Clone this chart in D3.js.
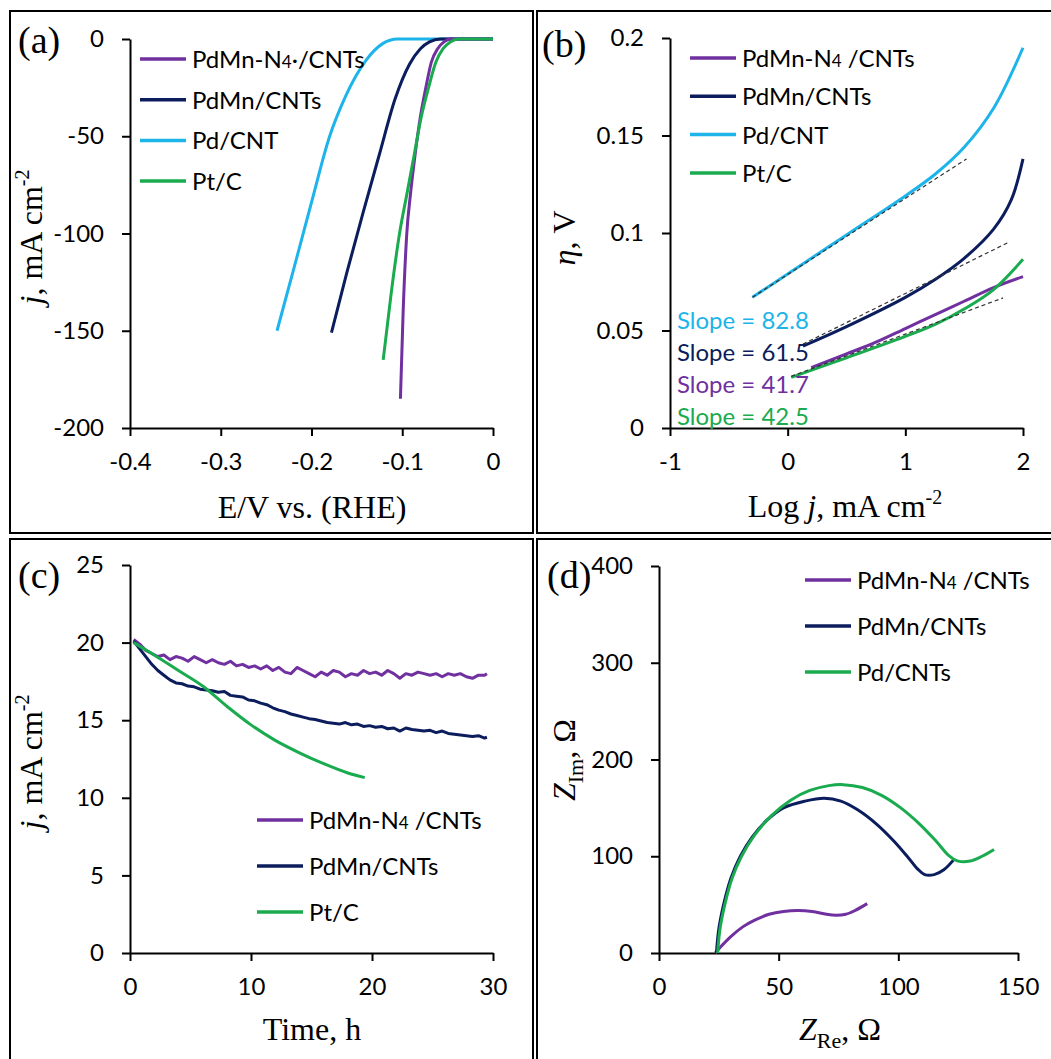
<!DOCTYPE html>
<html>
<head>
<meta charset="utf-8">
<script src="https://cdn.jsdelivr.net/npm/d3@7"></script>
<style>
  body { margin: 0; background: #fff; }
  svg { display: block; }
  .axis path, .axis line { stroke: #000; stroke-width: 2; }
  .axis text { font-family: Lato, sans-serif; font-size: 24px; fill: #000; }
  .leg text, .slope { font-family: Lato, sans-serif; font-size: 24px; }
  .title { font-family: "Liberation Serif", serif; font-size: 32px; fill: #000; }
  .plabel { font-family: "Liberation Serif", serif; font-size: 38px; fill: #000; }
</style>
</head>
<body>
<svg width="1051" height="1059"></svg>
<script>
// series colours
var purple = "#7030a0", navy = "#0b1d5c", cyan = "#1db4ea", green = "#1aab4f";

// (a) LSV curves: [E (V vs RHE), j (mA cm-2)]
var lsvPdMnN4 = [[-0.102,-185],[-0.099,-140],[-0.095,-100],[-0.091,-80],[-0.086,-60],[-0.080,-40],[-0.074,-25],[-0.068,-12],[-0.061,-5],[-0.054,-1.5],[-0.047,0],[0,0]];
var lsvPdMn = [[-0.178,-151],[-0.161,-120],[-0.143,-89],[-0.125,-59],[-0.108,-31],[-0.092,-13],[-0.080,-5],[-0.070,-1.5],[-0.058,0],[0,0]];
var lsvPd = [[-0.238,-150],[-0.22,-119],[-0.2,-84],[-0.18,-50],[-0.163,-30],[-0.14,-11],[-0.122,-2.5],[-0.105,0],[0,0]];
var lsvPt = [[-0.121,-165],[-0.112,-130],[-0.103,-100],[-0.095,-80],[-0.087,-60],[-0.079,-40],[-0.071,-25],[-0.063,-12],[-0.055,-5],[-0.047,-1.5],[-0.038,0],[0,0]];
var namesA = ["PdMn-N4·/CNTs", "PdMn/CNTs", "Pd/CNT", "Pt/C"];
var ticksAx = [-0.4,-0.3,-0.2,-0.1,0], ticksAy = [0,-50,-100,-150,-200];

// (b) Tafel plots: [log j, overpotential (V)]
var tafelPdMnN4 = [[0.2,0.031],[0.5,0.038],[0.75,0.044],[1,0.051],[1.25,0.058],[1.5,0.065],[1.75,0.072],[2,0.0776]];
var tafelPdMn = [[0.13,0.042],[0.5,0.052],[1,0.067],[1.25,0.076],[1.5,0.087],[1.75,0.102],[1.9,0.117],[2,0.138]];
var tafelPd = [[-0.3,0.067],[0,0.079],[0.5,0.099],[1,0.119],[1.25,0.130],[1.5,0.144],[1.75,0.164],[2,0.195]];
var tafelPt = [[0.03,0.026],[0.5,0.036],[1,0.047],[1.25,0.053],[1.5,0.061],[1.75,0.071],[2,0.0865]];
var fitPd = [[-0.3,0.067],[1.52,0.138]];
var fitPdMn = [[0.13,0.043],[1.87,0.095]];
var fitPt = [[0.03,0.0265],[1.83,0.0667]];
var slopes = ["Slope = 82.8", "Slope = 61.5", "Slope = 41.7", "Slope = 42.5"];
var namesB = ["PdMn-N4 /CNTs", "PdMn/CNTs", "Pd/CNT", "Pt/C"];
var ticksBx = [-1,0,1,2], ticksBy = [0,0.05,0.1,0.15,0.2];

// (c) chronoamperometry: [time (h), j (mA cm-2)]
var caPdMnN4 = [[0.3,20.2],[0.8,19.9],[1.3,19.5],[1.8,19.3],[2.3,19.1],[2.8,19.2],[3.3,18.9],[3.8,19.1],[4.3,19.0],[4.8,18.8],[5.3,19.1],[5.8,18.9],[6.3,18.7],[6.8,18.9],[7.3,18.7],[7.8,18.6],[8.3,18.8],[8.8,18.5],[9.3,18.6],[9.8,18.4],[10.3,18.5],[10.8,18.3],[11.3,18.5],[11.8,18.2],[12.3,18.4],[12.8,18.1],[13.3,18.0],[13.8,18.4],[14.3,18.2],[14.8,18.0],[15.3,17.8],[15.8,18.1],[16.3,17.9],[16.8,18.2],[17.3,18.1],[17.8,17.8],[18.3,18.0],[18.8,17.9],[19.3,18.2],[19.8,18.0],[20.3,18.1],[20.8,17.9],[21.3,18.2],[21.8,18.0],[22.3,17.7],[22.8,18.0],[23.3,17.9],[23.8,18.1],[24.3,18.0],[24.8,17.9],[25.3,18.0],[25.8,17.8],[26.3,18.0],[26.8,17.9],[27.3,18.0],[27.8,17.8],[28.3,17.7],[28.8,17.9],[29.3,17.9],[29.5,18.0]];
var caPdMn = [[0.3,20.1],[0.8,19.6],[1.3,19.1],[1.8,18.6],[2.3,18.2],[2.8,17.9],[3.3,17.6],[3.8,17.4],[4.3,17.35],[4.8,17.2],[5.3,17.15],[5.8,17.0],[6.3,16.95],[6.8,16.9],[7.3,16.8],[7.8,16.85],[8.3,16.6],[8.8,16.55],[9.3,16.5],[9.8,16.3],[10.3,16.25],[10.8,16.1],[11.3,16.0],[11.8,15.8],[12.3,15.65],[12.8,15.55],[13.3,15.4],[13.8,15.3],[14.3,15.2],[14.8,15.1],[15.3,15.05],[15.8,14.95],[16.3,14.85],[16.8,14.8],[17.3,14.75],[17.8,14.85],[18.3,14.7],[18.8,14.75],[19.3,14.6],[19.8,14.65],[20.3,14.55],[20.8,14.6],[21.3,14.45],[21.8,14.5],[22.3,14.3],[22.8,14.5],[23.3,14.4],[23.8,14.35],[24.3,14.3],[24.8,14.35],[25.3,14.2],[25.8,14.3],[26.3,14.15],[26.8,14.1],[27.3,14.05],[27.8,14.0],[28.3,13.95],[28.8,14.0],[29.3,13.85],[29.5,13.9]];
var caPt = [[0.3,20.0],[2,19.2],[4,18.2],[6,17.2],[8,15.9],[10,14.7],[12,13.7],[14,12.9],[16,12.2],[18,11.6],[19.4,11.3]];
var namesC = ["PdMn-N4 /CNTs", "PdMn/CNTs", "Pt/C"];
var ticksCx = [0,10,20,30], ticksCy = [0,5,10,15,20,25];

// (d) Nyquist plots: [Z_Re, Z_Im] (ohm)
var eisPdMnN4 = [[23.5,0],[26,7],[30,17],[35,27],[40,34],[46,40],[52,43],[58,44],[64,43],[70,40],[74,39],[78,40],[82,44],[87,51]];
var eisPdMn = [[24,0],[25,25],[27,50],[30,77],[34,100],[39,120],[45,137],[52,150],[61,157],[69,160],[76,157],[83,148],[91,133],[98,116],[104,99],[108,87],[111,81],[115,81],[119,86],[123,96]];
var eisPd = [[24.5,0],[25.5,25],[27.5,50],[30.5,77],[34.5,100],[40,122],[47,142],[55,158],[63,168],[71,173],[77,174],[85,171],[93,163],[101,150],[109,133],[116,115],[121,101],[125,95],[130,95],[135,100],[140,107]];
var namesD = ["PdMn-N4 /CNTs", "PdMn/CNTs", "Pd/CNTs"];
var ticksDx = [0,50,100,150], ticksDy = [0,100,200,300,400];

var svg = d3.select("svg");

// panel frames
[[10,11],[537,11],[10,539],[537,539]].forEach(function(p) {
  svg.append("rect").attr("x", p[0]).attr("y", p[1]).attr("width", 523).attr("height", 522)
    .attr("fill", "none").attr("stroke", "#000").attr("stroke-width", 2);
});

// scales
var xA = d3.scaleLinear().domain([-0.4, 0]).range([130, 493]);
var yA = d3.scaleLinear().domain([-200, 0]).range([428, 39]);
var xB = d3.scaleLinear().domain([-1, 2]).range([670, 1023]);
var yB = d3.scaleLinear().domain([0, 0.2]).range([428, 38]);
var xC = d3.scaleLinear().domain([0, 30]).range([130, 493]);
var yC = d3.scaleLinear().domain([0, 25]).range([953, 565]);
var xD = d3.scaleLinear().domain([0, 150]).range([659, 1018]);
var yD = d3.scaleLinear().domain([0, 400]).range([953, 566]);

function axes(x, y, xt, yt) {
  svg.append("g").attr("class", "axis")
    .attr("transform", "translate(0," + y.range()[0] + ")")
    .call(d3.axisBottom(x).tickValues(xt).tickSize(8).tickSizeOuter(0).tickPadding(17).tickFormat(String))
    .attr("font-family", null).attr("font-size", null);
  svg.append("g").attr("class", "axis")
    .attr("transform", "translate(" + x.range()[0] + ",0)")
    .call(d3.axisLeft(y).tickValues(yt).tickSize(8).tickSizeOuter(0).tickPadding(18).tickFormat(String))
    .attr("font-family", null).attr("font-size", null);
}

function curve(x, y, data, color, kind) {
  svg.append("path").datum(data)
    .attr("fill", "none").attr("stroke", color).attr("stroke-width", 3)
    .attr("stroke-linejoin", "round")
    .attr("d", d3.line().x(function(d) { return x(d[0]); }).y(function(d) { return y(d[1]); })
      .curve(kind || d3.curveMonotoneX));
}

function fit(x, y, data) {
  svg.append("path").datum(data)
    .attr("fill", "none").attr("stroke", "#333").attr("stroke-width", 1.2)
    .attr("stroke-dasharray", "4,3")
    .attr("d", d3.line().x(function(d) { return x(d[0]); }).y(function(d) { return y(d[1]); }));
}

// legend with the "4" of N4 set smaller
function legend(names, colors, x0, y0, step) {
  var g = svg.append("g").attr("class", "leg");
  names.forEach(function(n, i) {
    var yy = y0 + i * step;
    g.append("line").attr("x1", x0).attr("x2", x0 + 46).attr("y1", yy).attr("y2", yy)
      .attr("stroke", colors[i]).attr("stroke-width", 3.5);
    var t = g.append("text").attr("x", x0 + 52).attr("y", yy + 9).attr("fill", "#000");
    var k = n.indexOf("N4");
    if (k < 0) { t.text(n); return; }
    t.append("tspan").text(n.slice(0, k + 1));
    t.append("tspan").attr("font-size", 17).text("4");
    t.append("tspan").text(n.slice(k + 2));
  });
}

function title(x, y, rot, parts) {
  var t = svg.append("text").attr("class", "title").attr("text-anchor", "middle")
    .attr("transform", "translate(" + x + "," + y + ")" + (rot ? " rotate(-90)" : ""));
  parts.forEach(function(p) {
    var s = t.append("tspan").text(p.t);
    if (p.i) s.attr("font-style", "italic");
    if (p.sup) s.attr("font-size", 20).attr("dy", -13);
    if (p.sub) s.attr("font-size", 22).attr("dy", 8);
    if (p.back) s.attr("dy", p.back);
  });
}

// ---- (a)
axes(xA, yA, ticksAx, ticksAy);
curve(xA, yA, lsvPd, cyan);
curve(xA, yA, lsvPdMn, navy);
curve(xA, yA, lsvPdMnN4, purple);
curve(xA, yA, lsvPt, green);
legend(namesA, [purple, navy, cyan, green], 140, 59, 40.7);
title(312, 518, false, [{t: "E/V vs. (RHE)"}]);
title(42, 237, true, [{t: "j", i: true}, {t: ", mA cm"}, {t: "-2", sup: true}]);
svg.append("text").attr("class", "plabel").attr("x", 18).attr("y", 53).text("(a)");

// ---- (b)
axes(xB, yB, ticksBx, ticksBy);
curve(xB, yB, tafelPd, cyan, d3.curveCatmullRom);
curve(xB, yB, tafelPdMn, navy, d3.curveCatmullRom);
curve(xB, yB, tafelPdMnN4, purple, d3.curveCatmullRom);
curve(xB, yB, tafelPt, green, d3.curveCatmullRom);
fit(xB, yB, fitPd);
fit(xB, yB, fitPdMn);
fit(xB, yB, fitPt);
legend(namesB, [purple, navy, cyan, green], 690, 58, 38.3);
slopes.forEach(function(s, i) {
  svg.append("text").attr("class", "slope").attr("x", xB(-1) + 7).attr("y", 329 + i * 32)
    .attr("fill", [cyan, navy, purple, green][i]).text(s);
});
title(845, 517, false, [{t: "Log "}, {t: "j", i: true}, {t: ", mA cm"}, {t: "-2", sup: true}]);
title(575, 238, true, [{t: "η", i: true}, {t: ", V"}]);
svg.append("text").attr("class", "plabel").attr("x", 542).attr("y", 57).text("(b)");

// ---- (c)
axes(xC, yC, ticksCx, ticksCy);
curve(xC, yC, caPdMnN4, purple, d3.curveLinear);
curve(xC, yC, caPdMn, navy, d3.curveLinear);
curve(xC, yC, caPt, green);
legend(namesC, [purple, navy, green], 257, 820, 46);
title(312, 1040, false, [{t: "Time, h"}]);
title(42, 762, true, [{t: "j", i: true}, {t: ", mA cm"}, {t: "-2", sup: true}]);
svg.append("text").attr("class", "plabel").attr("x", 18).attr("y", 588).text("(c)");

// ---- (d)
axes(xD, yD, ticksDx, ticksDy);
curve(xD, yD, eisPdMnN4, purple, d3.curveCatmullRom);
curve(xD, yD, eisPdMn, navy, d3.curveCatmullRom);
curve(xD, yD, eisPd, green, d3.curveCatmullRom);
legend(namesD, [purple, navy, green], 805, 580, 46);
title(840, 1040, false, [{t: "Z", i: true}, {t: "Re", sub: true}, {t: ", Ω", back: -8}]);
title(575, 760, true, [{t: "Z", i: true}, {t: "Im", sub: true}, {t: ", Ω", back: -8}]);
svg.append("text").attr("class", "plabel").attr("x", 547).attr("y", 588).text("(d)");
</script>
</body>
</html>
